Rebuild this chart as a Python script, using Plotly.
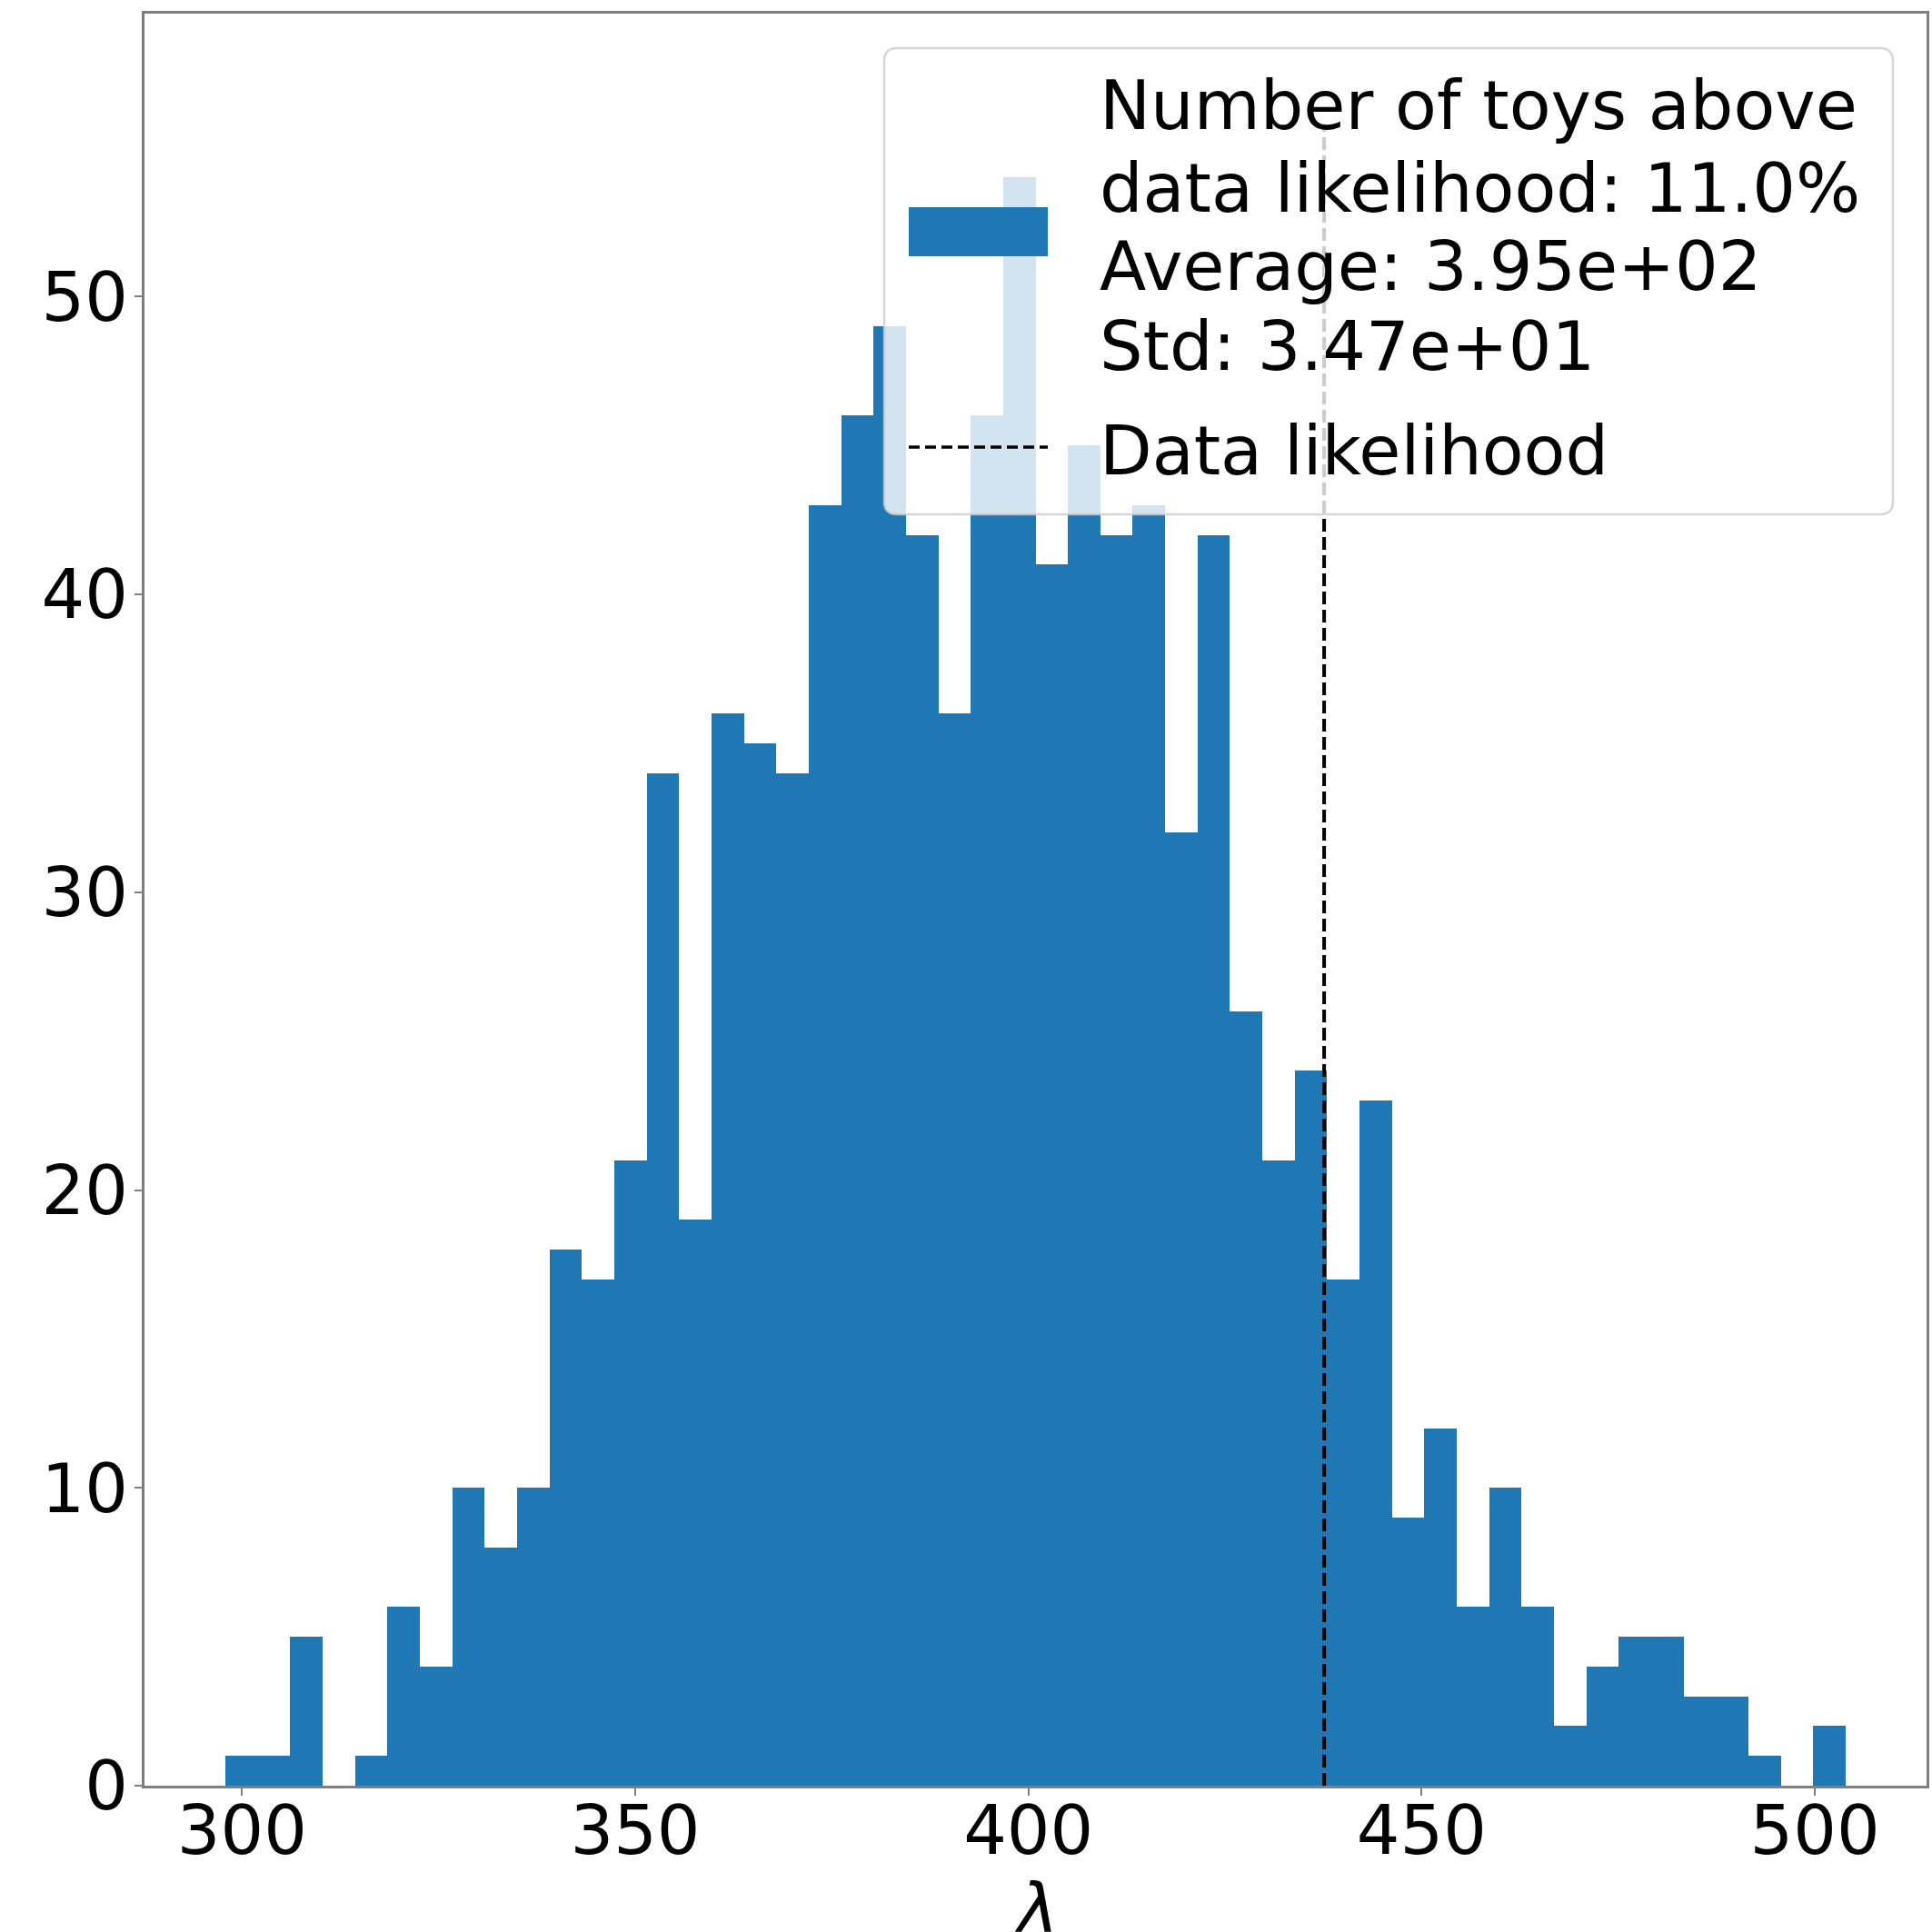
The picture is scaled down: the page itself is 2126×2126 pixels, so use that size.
import numpy as np
import plotly.graph_objects as go

# ---- histogram of toy log-likelihood values (50 equal bins) ----
lam_min = 297.9
lam_max = 503.9
n_bins = 50
counts = [1, 1, 5, 0, 1, 6, 4, 10, 8, 10,
          18, 17, 21, 34, 19, 36, 35, 34, 43, 46,
          49, 42, 36, 46, 54, 41, 45, 42, 43, 32,
          42, 26, 21, 24, 17, 23, 9, 12, 6, 10,
          6, 2, 4, 5, 5, 3, 3, 1, 0, 2]

data_likelihood = 437.6
data_line_top = 55.8

legend_lines = ["Number of toys above",
                "data likelihood: 11.0%",
                "Average: 3.95e+02",
                "Std: 3.47e+01"]
legend_line_label = "Data likelihood"

x_ticks = [300, 350, 400, 450, 500]
y_ticks = [0, 10, 20, 30, 40, 50]
x_range = [287.6, 514.2]
y_range = [0, 59.5]

BLUE = "#1f77b4"
FONT = "DejaVu Sans"
FS = 75

edges = np.linspace(lam_min, lam_max, n_bins + 1)
centers = 0.5 * (edges[:-1] + edges[1:])
width = edges[1] - edges[0]

W = H = 2126
ML, MR, MT, MB = 159, 6, 15, 161
PW = W - ML - MR
PH = H - MT - MB


def px(x):
    return (x - ML) / PW


def py(y):
    return (H - MB - y) / PH


fig = go.Figure()
fig.add_trace(go.Bar(
    x=centers, y=counts, width=[width] * n_bins,
    marker=dict(color=BLUE, line=dict(width=0)),
    showlegend=False, hoverinfo="skip",
))

shapes = []
# dashed marker at the observed data likelihood
shapes.append(dict(type="line", xref="x", yref="y",
                   x0=data_likelihood, x1=data_likelihood,
                   y0=0, y1=data_line_top, layer="above",
                   line=dict(color="black", width=4, dash="14px,6px")))

# legend frame with rounded corners
bx0, bx1, by0, by1, r = 973, 2083, 53, 566, 14
rx = r / PW
ry = r / PH
X0, X1 = px(bx0), px(bx1)
Y0, Y1 = py(by1), py(by0)  # bottom, top in paper units
path = (f"M {X0 + rx},{Y1} L {X1 - rx},{Y1} Q {X1},{Y1} {X1},{Y1 - ry} "
        f"L {X1},{Y0 + ry} Q {X1},{Y0} {X1 - rx},{Y0} "
        f"L {X0 + rx},{Y0} Q {X0},{Y0} {X0},{Y0 + ry} "
        f"L {X0},{Y1 - ry} Q {X0},{Y1} {X0 + rx},{Y1} Z")
shapes.append(dict(type="path", xref="paper", yref="paper", path=path,
                   fillcolor="rgba(255,255,255,0.8)", layer="above",
                   line=dict(color="rgba(204,204,204,0.8)", width=2.5)))
# legend handles
shapes.append(dict(type="rect", xref="paper", yref="paper",
                   x0=px(1000), x1=px(1153), y0=py(282), y1=py(228),
                   fillcolor=BLUE, line=dict(width=0), layer="above"))
shapes.append(dict(type="line", xref="paper", yref="paper",
                   x0=px(1000), x1=px(1153), y0=py(492), y1=py(492),
                   line=dict(color="black", width=3.5, dash="12px,6px"),
                   layer="above"))

annotations = []
baselines = [142, 233, 319, 407]
text_x = 1208
for txt, b in zip(legend_lines, baselines):
    annotations.append(dict(xref="paper", yref="paper", x=px(text_x),
                            y=py(b - 0.346 * FS), xanchor="left",
                            yanchor="middle", text=txt, showarrow=False,
                            font=dict(family=FONT, size=FS, color="black")))
annotations.append(dict(xref="paper", yref="paper", x=px(text_x),
                        y=py(522 - 0.346 * FS), xanchor="left",
                        yanchor="middle", text=legend_line_label,
                        showarrow=False,
                        font=dict(family=FONT, size=FS, color="black")))
# x-axis label
annotations.append(dict(xref="paper", yref="paper", x=0.5, y=py(2054),
                        xanchor="center", yanchor="top", text="<i>λ</i>",
                        showarrow=False,
                        font=dict(family=FONT, size=FS, color="black")))

axis_common = dict(showgrid=False, zeroline=False, showline=True,
                   linecolor="#7f7f7f", linewidth=3, mirror=True,
                   ticks="outside", ticklen=8, tickwidth=2,
                   tickcolor="#7f7f7f",
                   tickfont=dict(family=FONT, size=FS, color="black"))

fig.update_layout(
    template="none",
    width=W, height=H,
    margin=dict(l=ML, r=MR, t=MT, b=MB, autoexpand=False),
    paper_bgcolor="white", plot_bgcolor="white",
    bargap=0,
    showlegend=False,
    shapes=shapes,
    annotations=annotations,
    xaxis=dict(range=x_range, tickvals=x_ticks, automargin=False,
               ticklabelstandoff=-26, **axis_common),
    yaxis=dict(range=y_range, tickvals=y_ticks, automargin=False,
               ticklabelstandoff=-8, **axis_common),
)

fig.write_html("out.html")
